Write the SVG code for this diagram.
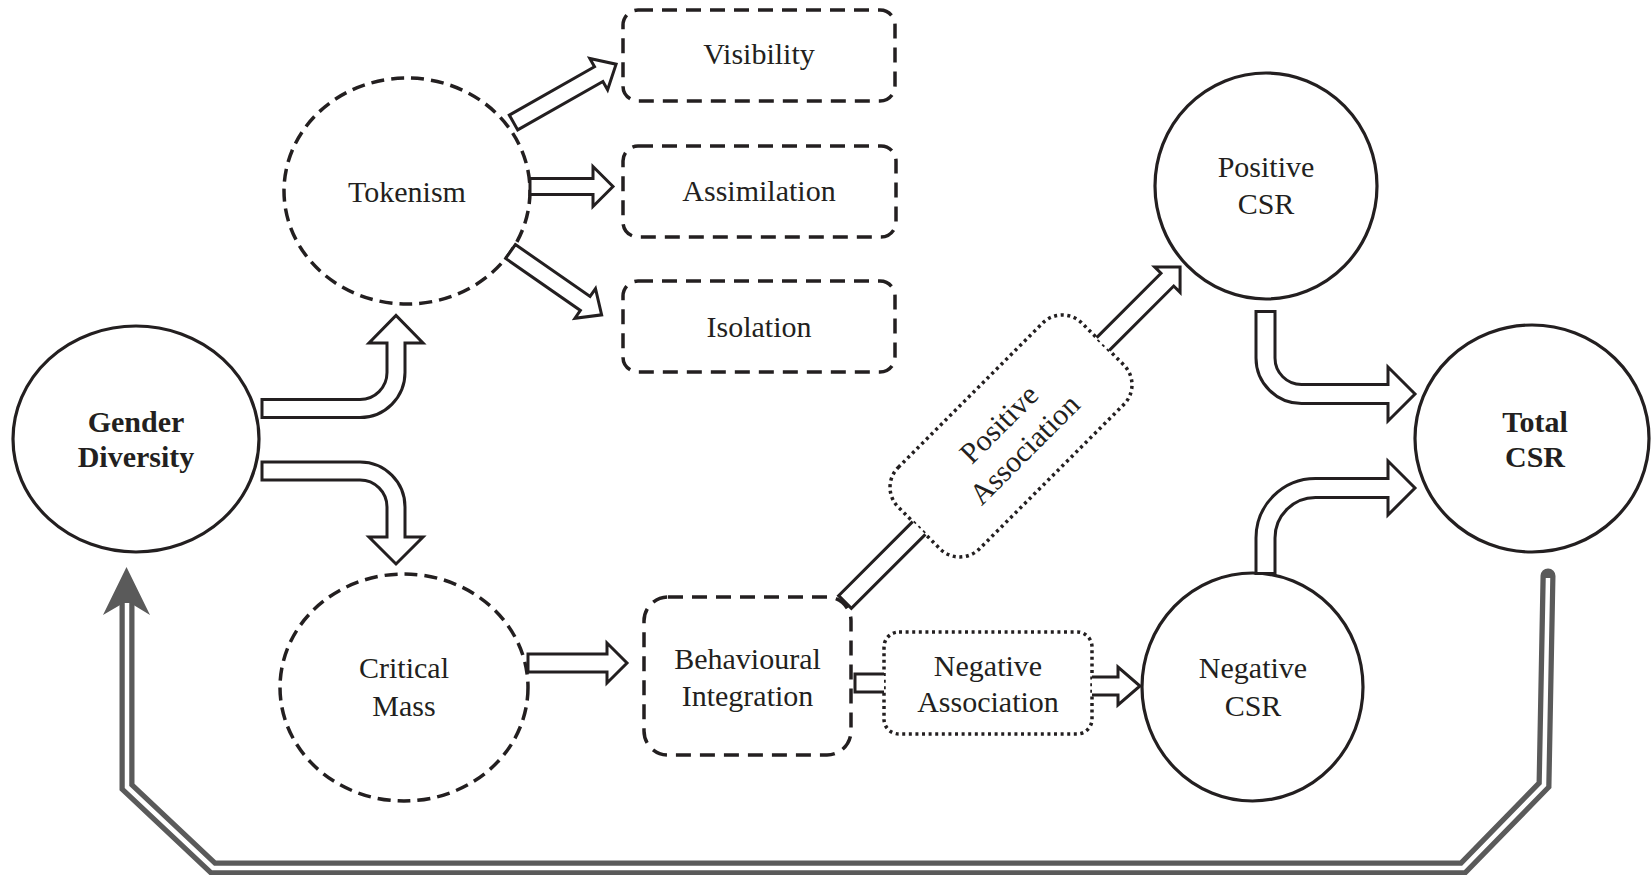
<svg xmlns="http://www.w3.org/2000/svg" width="1651" height="875" viewBox="0 0 1651 875">
<style>
.solid{fill:#fff;stroke:#231f20;stroke-width:3.2}
.dash{fill:#fff;stroke:#231f20;stroke-width:3.5;stroke-dasharray:13 7}
.bdash{fill:#fff;stroke:#231f20;stroke-width:3.5;stroke-dasharray:15 9}
.dot{fill:#fff;stroke:#231f20;stroke-width:3.5;stroke-dasharray:3 3.6}
.t{font-family:"Liberation Serif","Times New Roman",serif;font-size:30px;fill:#231f20;text-anchor:middle}
.b{font-weight:bold}
.arr{fill:#fff;stroke:#231f20;stroke-width:3;stroke-linejoin:miter}
</style>
<rect width="1651" height="875" fill="#fff"/>
<g id="nodes">
<g id="gender-diversity"><ellipse class="solid" cx="136" cy="439" rx="123" ry="113"/><text class="t b" x="136" y="432">Gender</text><text class="t b" x="136" y="467">Diversity</text></g>
<g id="tokenism"><ellipse class="dash" cx="407" cy="191" rx="123" ry="113"/><text class="t" x="407" y="202">Tokenism</text></g>
<g id="visibility"><rect class="bdash" x="623" y="10" width="272" height="91" rx="15"/><text class="t" x="759" y="64">Visibility</text></g>
<g id="assimilation"><rect class="bdash" x="623" y="146" width="273" height="91" rx="15"/><text class="t" x="759" y="201">Assimilation</text></g>
<g id="isolation"><rect class="bdash" x="623" y="281" width="272" height="91" rx="15"/><text class="t" x="759" y="337">Isolation</text></g>
<g id="critical-mass"><ellipse class="dash" cx="404" cy="687.5" rx="124" ry="113.5"/><text class="t" x="404" y="678">Critical</text><text class="t" x="404" y="716">Mass</text></g>
<g id="behavioural-integration"><rect class="bdash" x="644" y="597" width="207" height="158" rx="24"/><text class="t" x="747.5" y="669">Behavioural</text><text class="t" x="747.5" y="706">Integration</text></g>
<g id="positive-association" transform="translate(1011,436) rotate(-45)"><rect class="dot" x="-130" y="-57.5" width="260" height="115" rx="28"/><text class="t" x="0" y="-7">Positive</text><text class="t" x="0" y="29">Association</text></g>
<g id="negative-association"><rect class="dot" x="884" y="632" width="208" height="102" rx="15"/><text class="t" x="988" y="676">Negative</text><text class="t" x="988" y="712">Association</text></g>
<g id="positive-csr"><ellipse class="solid" cx="1266" cy="186" rx="111" ry="113"/><text class="t" x="1266" y="177">Positive</text><text class="t" x="1266" y="214">CSR</text></g>
<g id="negative-csr"><ellipse class="solid" cx="1252.5" cy="687" rx="110.5" ry="114"/><text class="t" x="1253" y="678">Negative</text><text class="t" x="1253" y="716">CSR</text></g>
<g id="total-csr"><ellipse class="solid" cx="1532" cy="438.5" rx="117" ry="113.5"/><text class="t b" x="1535" y="432">Total</text><text class="t b" x="1535" y="467">CSR</text></g>
</g>
<g id="connectors">
<path class="arr" transform="translate(513.5,122.5) rotate(-29.6)" d="M0,-8.5 H98 V-18 L118,0 L98,18 V8.5 H0 Z"/>
<path class="arr" transform="translate(530,186.5)" d="M0,-8 H63 V-20 L83,0 L63,20 V8 H0 Z"/>
<path class="arr" transform="translate(510.5,251.5) rotate(34.8)" d="M0,-8.5 H91 V-18 L111,0 L91,18 V8.5 H0 Z"/>
<path class="arr" d="M262,417.5 H360 A45,45 0 0 0 405,372.5 V343 H423 L396,315.5 L369,343 H387 V372.5 A27,27 0 0 1 360,399.5 H262 Z"/>
<path class="arr" d="M262,462 H360 A45,45 0 0 1 405,507 V537 H423 L396,564 L369,537 H387 V507 A27,27 0 0 0 360,480 H262 Z"/>
<path class="arr" transform="translate(528,663)" d="M0,-9 H79 V-20 L99,0 L79,20 V9 H0 Z"/>
<path class="arr" transform="translate(845,602) rotate(-45)" d="M104.7,-9 H0 V9 H104.7"/>
<path class="arr" transform="translate(1103,344) rotate(-45)" d="M0,-9 H91 V-18 L109,0 L91,18 V9 H0"/>
<path class="arr" d="M884,674 H855 V692 H884"/>
<path class="arr" d="M1092,677 H1118 V667 L1140,686 L1118,705 V695 H1092"/>
<path class="arr" d="M1256,311.5 V358 A45.5,45.5 0 0 0 1301.5,403.5 H1388 V421 L1415,394 L1388,367 V384.5 H1301.5 A26.5,26.5 0 0 1 1275,358 V311.5 Z"/>
<path class="arr" d="M1256,573.5 V538 A59.5,59.5 0 0 1 1315.5,478.5 H1388 V461 L1415,488 L1388,515 V497.5 H1315.5 A40.5,40.5 0 0 0 1275,538 V573.5 Z"/>
<g id="feedback">
<path d="M1548,576 L1544,785 L1463,868 L213,868 L127,787 L127,602" fill="none" stroke="#5a5a5a" stroke-width="15" stroke-linejoin="miter" stroke-linecap="round"/>
<path d="M1548,578 L1544,785 L1463,868 L213,868 L127,787 L127,603" fill="none" stroke="#fff" stroke-width="4.5" stroke-linejoin="miter"/>
<path d="M126.5,567 L150,615 L127,601 L103,615 Z" fill="#5a5a5a"/>
</g>
</g>
</svg>
